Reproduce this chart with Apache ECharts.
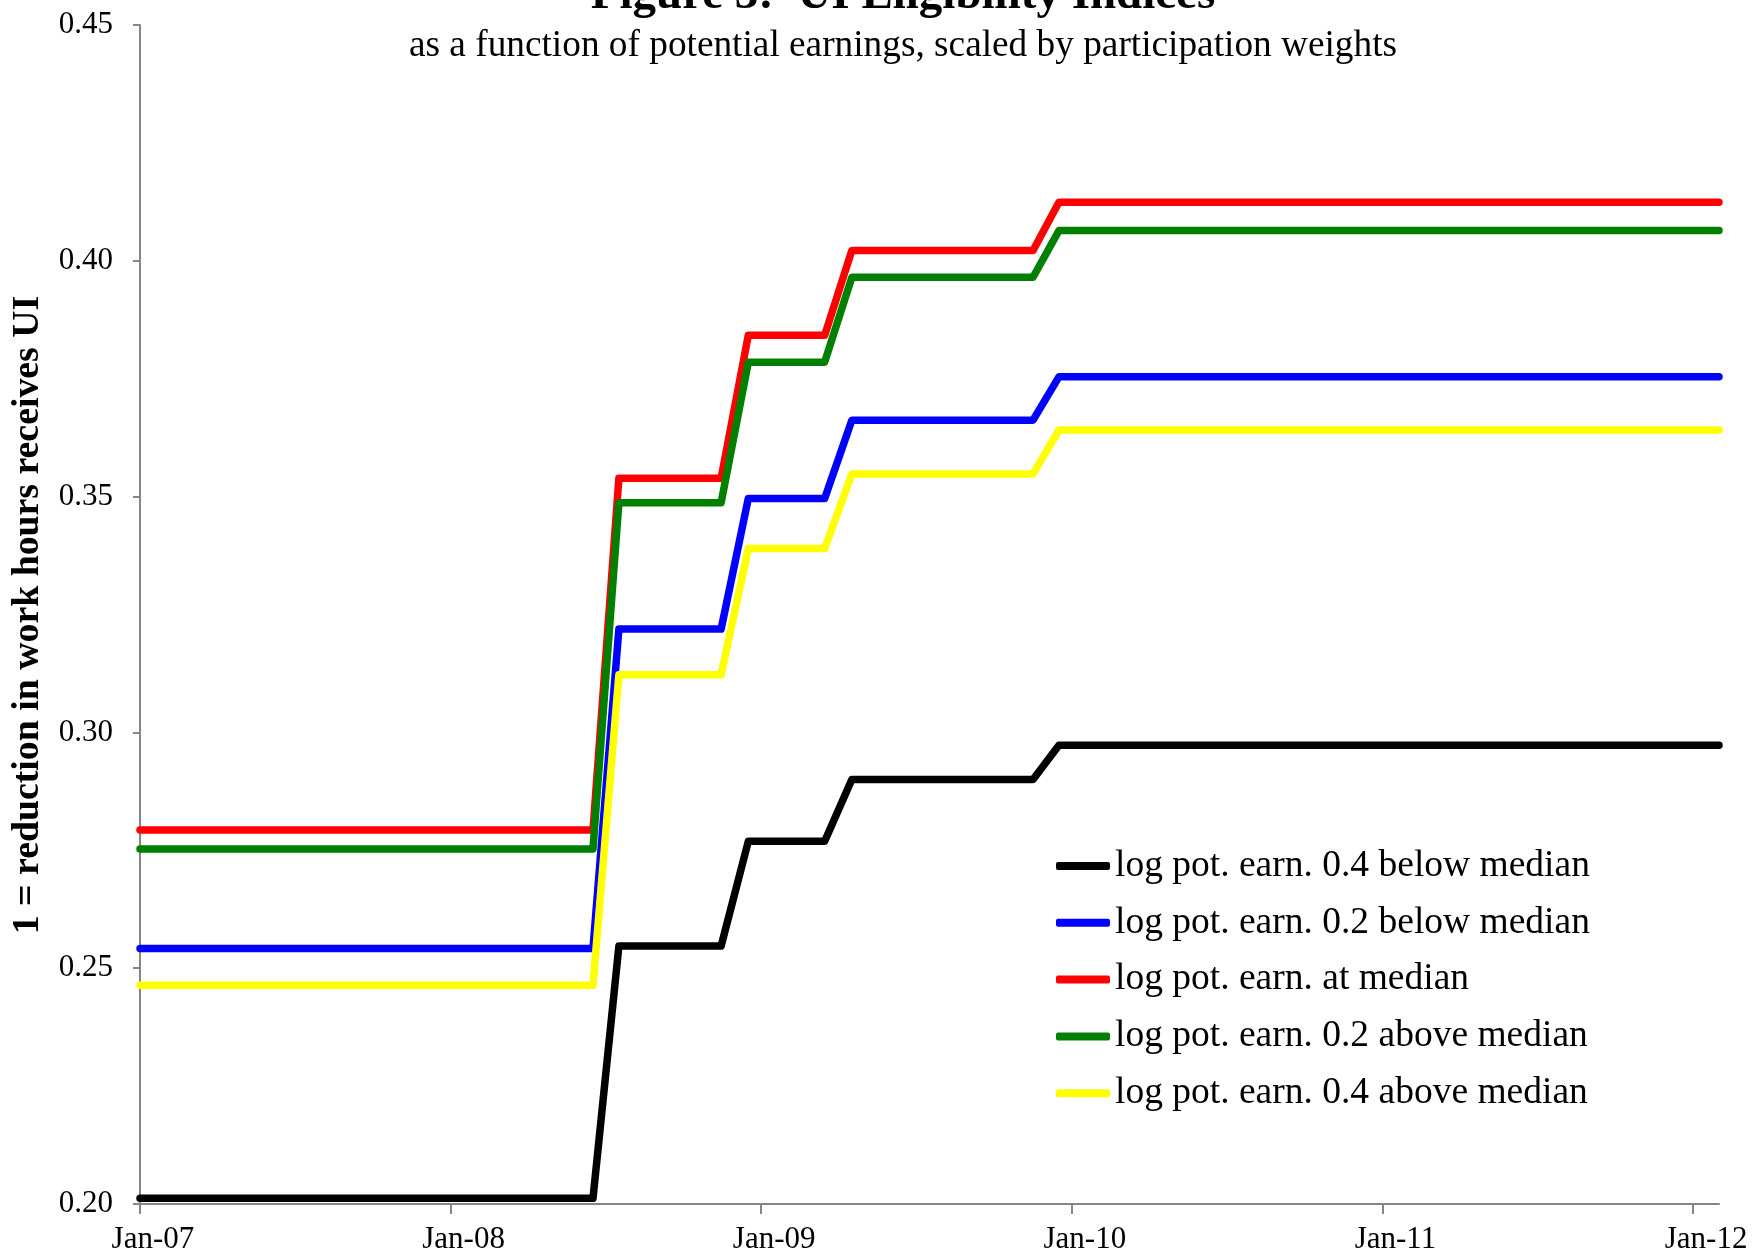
<!DOCTYPE html>
<html>
<head>
<meta charset="utf-8">
<script src="https://cdn.jsdelivr.net/npm/echarts@6/dist/echarts.min.js"></script>
<style>
  html, body { margin: 0; padding: 0; background: #fff; }
  #chart { width: 1752px; height: 1258px; }
</style>
</head>
<body>
<div id="chart"></div>
<script>
// months since Jan-07 where the steps start / end
var months = [0, 17.5, 18.5, 22.45, 23.5, 26.45, 27.5, 34.5, 35.5, 61];

var below04 = [0.2012, 0.2012, 0.2547, 0.2547, 0.2769, 0.2769, 0.2900, 0.2900, 0.2973, 0.2973];
var below02 = [0.2542, 0.2542, 0.3219, 0.3219, 0.3496, 0.3496, 0.3662, 0.3662, 0.3754, 0.3754];
var atMedian = [0.2793, 0.2793, 0.3539, 0.3539, 0.3842, 0.3842, 0.4022, 0.4022, 0.4124, 0.4124];
var above02 = [0.2753, 0.2753, 0.3487, 0.3487, 0.3785, 0.3785, 0.3965, 0.3965, 0.4064, 0.4064];
var above04 = [0.2464, 0.2464, 0.3122, 0.3122, 0.3390, 0.3390, 0.3548, 0.3548, 0.3641, 0.3641];

var xLabels = ['Jan-07', 'Jan-08', 'Jan-09', 'Jan-10', 'Jan-11', 'Jan-12'];
var xTicks = [0, 12, 24, 36, 48, 60];

var names = ['log pot. earn. 0.4 below median', 'log pot. earn. 0.2 below median',
  'log pot. earn. at median', 'log pot. earn. 0.2 above median', 'log pot. earn. 0.4 above median'];
var colors = ['#000000', '#0000ff', '#ff0000', '#008000', '#ffff00'];
var values = [below04, below02, atMedian, above02, above04];

var font = "'Liberation Serif', 'Times New Roman', serif";

function pairs(ys) {
  return months.map(function (m, i) { return [m, ys[i]]; });
}

var myChart = echarts.init(document.getElementById('chart'));

var series = names.map(function (n, i) {
  return {
    name: n,
    type: 'line',
    data: pairs(values[i]),
    symbol: 'none',
    itemStyle: { color: colors[i] },
    lineStyle: { color: colors[i], width: 7.5, cap: 'round', join: 'round' }
  };
});

option = {
  animation: false,
  backgroundColor: '#fff',
  grid: { left: 140, right: 33, top: 25, bottom: 54 },
  legend: {
    orient: 'vertical',
    left: 1051,
    top: 842,
    icon: 'roundRect',
    itemWidth: 54,
    itemHeight: 8,
    itemGap: 18.8,
    data: names,
    textStyle: { fontFamily: font, fontSize: 37.5, lineHeight: 37, color: '#000' }
  },
  graphic: [
    {
      type: 'text', x: 903, y: -4,
      style: { text: 'Figure 3:  UI Eligibility Indices', fontFamily: font, fontSize: 47, fontWeight: 'bold',
        fill: '#000', align: 'center', verticalAlign: 'middle', textAlign: 'center', textVerticalAlign: 'middle' }
    },
    {
      type: 'text', x: 903, y: 46,
      style: { text: 'as a function of potential earnings, scaled by participation weights', fontFamily: font, fontSize: 37.3,
        fill: '#000', align: 'center', verticalAlign: 'middle', textAlign: 'center', textVerticalAlign: 'middle' }
    },
    {
      type: 'text', x: 28, y: 615, rotation: Math.PI / 2,
      style: { text: '1 = reduction in work hours receives UI', fontFamily: font, fontSize: 37.8, fontWeight: 'bold',
        fill: '#000', align: 'center', verticalAlign: 'middle', textAlign: 'center', textVerticalAlign: 'middle' }
    }
  ],
  xAxis: {
    type: 'value',
    min: 0,
    max: 61,
    splitLine: { show: false },
    axisLine: { lineStyle: { color: '#868686', width: 2 } },
    axisTick: { show: true, length: 10, customValues: xTicks, lineStyle: { color: '#868686', width: 2 } },
    axisLabel: {
      customValues: xTicks.map(function (t) { return t + 0.5; }),
      formatter: function (v) { return xLabels[Math.round((v - 0.5) / 12)]; },
      fontFamily: font, fontSize: 31, color: '#000', margin: 20
    }
  },
  yAxis: {
    type: 'value',
    min: 0.2,
    max: 0.45,
    interval: 0.05,
    splitLine: { show: false },
    axisLine: { show: true, lineStyle: { color: '#868686', width: 2 } },
    axisTick: { show: true, length: 7, lineStyle: { color: '#868686', width: 2 } },
    axisLabel: {
      formatter: function (v) { return v.toFixed(2); },
      fontFamily: font, fontSize: 31, color: '#000', margin: 27
    }
  },
  series: series
};

myChart.setOption(option);
</script>
</body>
</html>
